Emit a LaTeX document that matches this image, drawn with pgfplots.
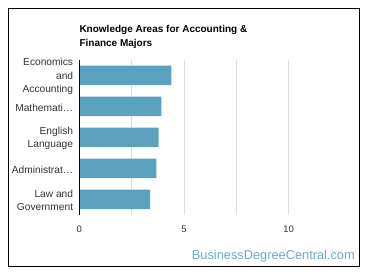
\documentclass[border=0pt]{standalone}
\usepackage{pgfplots}
\pgfplotsset{compat=1.18}
\usepackage{fontspec}
\setmainfont{Liberation Sans}
\definecolor{barblue}{HTML}{5BA1C0}
\definecolor{wm}{HTML}{74A7C4}
\definecolor{tickgray}{HTML}{333333}
\definecolor{gridgray}{HTML}{DDDDDD}
\begin{document}
\begin{tikzpicture}[x=1pt,y=1pt]
\path[fill=white] (0,0) rectangle (370,278);
\draw[black,line width=1pt] (8.5,11) rectangle (359,269.5);
\node[anchor=base west,font=\bfseries\fontsize{10}{14.4}\selectfont,align=left,inner sep=0pt] at (79.3,231.3) {Knowledge Areas for Accounting \&\\Finance Majors};
\node[anchor=base east,font=\fontsize{12.8}{16}\selectfont,text=wm,inner sep=0pt] at (355,18) {BusinessDegreeCentral.com};
\begin{axis}[
  at={(79.3pt,63pt)}, anchor=south west,
  scale only axis, width=261.6pt, height=155pt,
  xbar, bar width=19.5pt,
  xmin=0, xmax=12.5, ymin=-0.5, ymax=4.5,
  y dir=reverse,
  xtick={0,5,10}, minor xtick={2.5,7.5},
  ytick={0,1,2,3,4},
  yticklabels={{Economics\\and\\Accounting},{Mathemati…},{English\\Language},{Administrat…},{Law and\\Government}},
  yticklabel style={align=right,font=\fontsize{10.2}{13.3}\selectfont,text=tickgray,inner sep=0pt,xshift=-6pt,yshift=-1pt},
  xticklabel style={font=\fontsize{9.5}{12}\selectfont,text=tickgray,yshift=-7pt},
  /pgf/number format/assume math mode=true,
  xmajorgrids, xminorgrids, ymajorgrids=false,
  major grid style={gridgray,line width=0.8pt},
  minor grid style={gridgray,line width=0.8pt},
  major tick length=0pt, minor tick length=0pt,
  axis line style={draw=none},
  clip=false,
]
\addplot[fill=barblue,draw=none] coordinates {(4.40,0) (3.92,1) (3.79,2) (3.68,3) (3.39,4)};
\draw[black,line width=0.8pt] (axis cs:0,-0.5) -- (axis cs:0,4.5);
\end{axis}
\end{tikzpicture}
\end{document}
